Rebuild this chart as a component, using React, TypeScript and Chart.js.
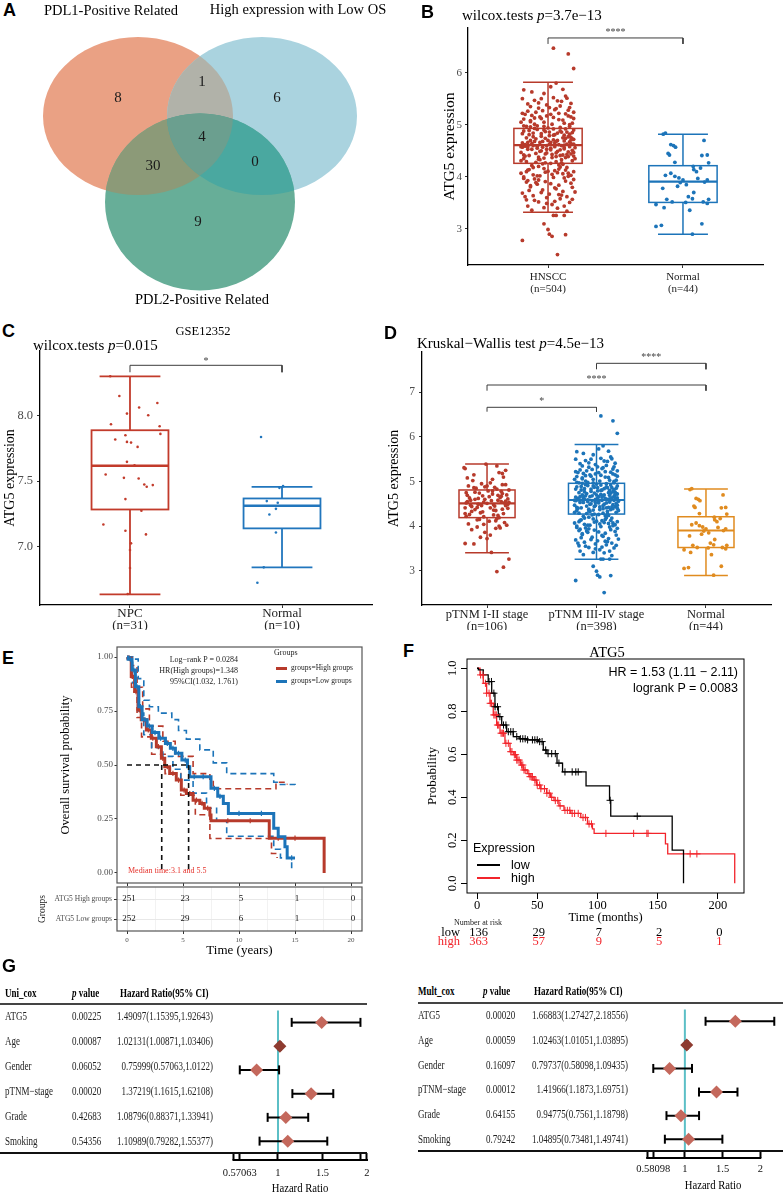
import React, { useEffect, useRef } from 'react';
import { Chart, registerables } from 'chart.js';

Chart.register(...registerables);

const SERIF = '"Liberation Serif", "Times New Roman", serif';
const SANS = '"Liberation Sans", Arial, Helvetica, sans-serif';

/* ======================= DATA ======================= */

// ---- A: Venn ----
const vennSetNames = ['PDL1-Positive Related', 'High expression with Low OS', 'PDL2-Positive Related'];
// regions: PDL1 only, PDL1∩OS, OS only, all three, PDL1∩PDL2, OS∩PDL2, PDL2 only
const vennCounts = [8, 1, 6, 4, 30, 0, 9];

// ---- B: HNSCC vs Normal ----
const bCategories = [['HNSCC', '(n=504)'], ['Normal', '(n=44)']];
const bYTicks = [3, 4, 5, 6];
const bLower = [3.32, 2.9];
const bQ1 = [4.26, 3.51];
const bMedian = [4.61, 3.91];
const bQ3 = [4.93, 4.215];
const bUpper = [5.815, 4.82];
const bBrackets = [[1, 2, 6.666, 6.551]];
const bStars = ['****'];
const hnsccPoints = [
  [-0.17, 4.62], [0.05, 4.81], [0.13, 4.37], [-0.08, 4.55], [0.19, 4.72], [-0.02, 4.09], [0.09, 4.95], [-0.14, 4.41], [0.16, 4.58], [-0.05, 5.12],
  [0.02, 4.66], [-0.19, 4.83], [0.11, 4.24], [-0.11, 4.77], [0.07, 4.49], [-0.03, 4.9], [0.18, 5.03], [-0.16, 4.29], [0.04, 4.71], [-0.09, 4.45],
  [0.14, 4.86], [-0.01, 4.53], [0.08, 4.15], [-0.18, 4.98], [0.12, 4.61], [-0.06, 4.33], [0.17, 4.44], [-0.13, 5.06], [0.01, 4.79], [0.1, 4.27],
  [-0.04, 4.68], [0.15, 5.17], [-0.15, 4.58], [0.06, 4.39], [-0.1, 4.93], [0.2, 4.56], [-0.07, 4.2], [0.03, 5.01], [-0.2, 4.47], [0.13, 4.74],
  [-0.12, 4.64], [0.09, 4.52], [-0.02, 4.87], [0.18, 4.31], [-0.16, 4.75], [0.05, 4.12], [-0.08, 4.59], [0.16, 4.97], [-0.03, 4.36], [0.11, 5.09],
  [-0.18, 4.42], [0.0, 4.7], [0.14, 4.63], [-0.11, 4.18], [0.07, 4.84], [-0.05, 4.5], [0.19, 4.4], [-0.14, 4.89], [0.02, 4.26], [0.12, 4.69],
  [-0.09, 5.24], [0.06, 5.31], [-0.17, 5.2], [0.15, 5.28], [-0.01, 5.38], [0.1, 5.45], [-0.13, 5.35], [0.04, 5.52], [-0.06, 5.15], [0.17, 5.41],
  [-0.19, 5.5], [0.08, 5.22], [-0.03, 5.6], [0.13, 5.55], [-0.1, 5.47], [0.01, 5.33], [0.19, 5.12], [-0.15, 5.26], [0.11, 5.68], [-0.07, 5.42],
  [-0.18, 5.67], [-0.12, 5.63], [0.06, 5.8], [0.02, 5.73], [0.14, 5.51], [-0.2, 5.05],
  [-0.06, 4.02], [0.12, 3.98], [-0.15, 3.93], [0.03, 4.05], [0.17, 3.88], [-0.1, 3.96], [0.08, 3.84], [-0.02, 3.91], [0.15, 4.07], [-0.18, 4.0],
  [0.05, 3.79], [-0.08, 3.86], [0.11, 3.72], [-0.13, 3.81], [0.19, 3.95], [-0.04, 3.75], [0.01, 3.67], [0.14, 3.62], [-0.19, 3.69], [0.09, 3.58],
  [-0.11, 3.64], [0.16, 3.51], [-0.16, 3.56], [0.03, 3.47], [0.12, 3.44], [-0.07, 3.52], [0.18, 3.57], [-0.01, 3.6], [0.07, 3.4], [-0.14, 3.74],
  [-0.15, 3.44], [-0.12, 3.36], [-0.03, 3.41], [0.04, 3.26], [0.06, 3.26], [0.12, 3.26], [-0.03, 3.1], [0.0, 2.99], [0.01, 2.9], [0.03, 2.86],
  [0.13, 2.89], [-0.19, 2.78], [0.07, 2.51], [0.04, 6.47], [0.15, 6.36], [0.19, 6.08],
  [-0.12, 4.53], [0.1, 4.6], [-0.05, 4.78], [0.16, 4.67], [-0.18, 4.35], [0.06, 4.46], [-0.09, 4.73], [0.13, 4.13], [-0.01, 4.6], [0.18, 4.85],
  [-0.15, 4.66], [0.04, 4.92], [-0.07, 4.38], [0.12, 4.8], [-0.19, 4.57], [0.08, 4.23], [-0.03, 4.97], [0.15, 4.48], [-0.11, 4.84], [0.02, 4.55],
  [-0.16, 4.1], [0.11, 4.42], [-0.04, 4.25], [0.19, 4.63], [-0.13, 4.96], [0.05, 4.65], [-0.08, 4.02], [0.17, 4.76], [-0.02, 4.44], [0.09, 4.88],
  [-0.2, 4.58], [0.17, 4.71], [-0.06, 4.49], [0.08, 4.62], [-0.14, 4.81], [0.03, 4.37], [0.19, 4.9], [-0.1, 4.68], [0.12, 4.54], [-0.02, 4.74],
  [0.06, 4.29], [-0.17, 4.4], [0.15, 4.77], [-0.08, 4.98], [0.01, 4.63], [0.18, 4.51], [-0.12, 4.22], [0.1, 4.86], [-0.04, 4.57], [0.14, 4.43],
  [-0.19, 4.65], [0.04, 4.8], [-0.07, 4.34], [0.16, 5.0], [-0.15, 4.53], [0.07, 4.7], [-0.01, 4.46], [0.13, 4.92], [-0.11, 4.6], [0.2, 4.35],
  [-0.05, 4.83], [0.09, 4.41], [-0.16, 4.97], [0.02, 4.52], [0.17, 4.64], [-0.09, 4.28], [0.11, 4.75], [-0.03, 5.05], [0.05, 4.58], [-0.18, 4.88],
  [0.14, 4.18], [-0.13, 4.7], [0.0, 4.94], [0.19, 4.47], [-0.06, 4.66], [0.08, 5.1], [-0.2, 4.31], [0.12, 4.56], [-0.1, 5.01], [0.03, 4.43],
  [0.16, 4.82], [-0.14, 4.14], [0.06, 4.68], [-0.02, 4.27], [0.18, 4.73], [-0.08, 4.91], [0.1, 4.33], [-0.17, 4.59], [0.01, 4.86], [0.15, 4.39],
  [-0.12, 5.18], [0.04, 5.14], [-0.04, 5.27], [0.13, 5.21], [-0.18, 5.11], [0.09, 5.36], [-0.07, 5.32], [0.19, 5.24], [-0.15, 5.4], [0.02, 5.2],
  [0.16, 5.33], [-0.1, 5.13], [0.07, 5.46], [-0.01, 5.17], [0.12, 5.03], [-0.19, 5.22], [0.05, 5.29], [-0.13, 5.08], [0.17, 5.15], [-0.05, 5.5],
  [-0.11, 4.04], [0.07, 4.08], [-0.18, 3.97], [0.15, 4.01], [0.0, 4.11], [-0.07, 3.94], [0.11, 4.06], [-0.15, 4.13], [0.19, 4.1], [0.04, 3.99],
  [-0.03, 4.16], [0.13, 3.92], [-0.2, 4.07], [0.09, 4.19], [-0.09, 3.89], [0.17, 4.03], [-0.13, 3.83], [0.02, 3.87], [0.06, 3.77], [-0.16, 3.9],
  [0.1, 3.65], [-0.05, 3.7], [0.18, 3.8], [-0.1, 3.55], [0.14, 3.34], [-0.17, 3.62], [0.05, 3.53], [0.2, 3.71], [-0.01, 3.49], [0.08, 3.66],
];
const normalPoints = [
  [-0.146, 4.82], [-0.13, 4.84], [0.156, 4.7], [-0.09, 4.62], [-0.07, 4.6], [-0.055, 4.57], [-0.1, 4.42], [0.14, 4.41], [0.18, 4.42], [-0.06, 4.28],
  [0.19, 4.27], [0.076, 4.2], [0.13, 4.17], [0.08, 4.14], [-0.09, 4.07], [-0.13, 4.03], [-0.06, 4.01], [0.0, 3.94], [-0.02, 3.89], [-0.04, 3.82],
  [0.025, 3.85], [0.18, 3.94], [0.11, 3.97], [0.08, 3.7], [-0.12, 3.57], [0.07, 3.58], [0.19, 3.57], [-0.2, 3.47], [-0.08, 3.52], [0.02, 3.51],
  [0.15, 3.52], [0.18, 3.49], [-0.14, 3.41], [0.05, 3.36], [-0.2, 3.05], [-0.16, 3.07], [0.14, 3.1], [0.07, 2.9], [-0.03, 3.98], [0.1, 4.1],
  [-0.15, 3.78], [0.04, 3.62], [0.16, 3.9], [-0.11, 4.45],
];

// ---- C: GSE12352 ----
const cCategories = [['NPC', '(n=31)'], ['Normal', '(n=10)']];
const cYTicks = [7.0, 7.5, 8.0];
const cLower = [6.637, 6.843];
const cQ1 = [7.284, 7.14];
const cMedian = [7.617, 7.312];
const cQ3 = [7.888, 7.368];
const cUpper = [8.299, 7.457];
const cBrackets = [[1, 2, 8.383, 8.33]];
const cStars = ['*'];
const npcPoints = [
  [-0.13, 8.299], [-0.07, 8.149], [0.18, 8.096], [0.06, 8.061], [-0.02, 8.015], [0.12, 8.002], [-0.125, 7.934], [0.195, 7.919], [0.2, 7.86], [-0.03, 7.85],
  [-0.097, 7.817], [-0.02, 7.799], [0.007, 7.794], [0.05, 7.761], [-0.02, 7.647], [-0.16, 7.551], [-0.04, 7.525], [0.057, 7.52], [0.094, 7.475], [0.15, 7.47],
  [0.11, 7.457], [-0.03, 7.363], [0.075, 7.274], [-0.175, 7.17], [-0.03, 7.122], [0.105, 7.094], [0.007, 7.026], [0.0, 6.975], [0.0, 6.838], [-0.015, 6.64], [0.03, 7.62],
];
const gseNormalPoints = [
  [-0.138, 7.837], [0.007, 7.462], [-0.017, 7.449], [-0.1, 7.348], [-0.028, 7.335], [-0.04, 7.289], [-0.083, 7.246], [-0.04, 7.109], [-0.12, 6.843], [-0.162, 6.726],
];

// ---- D: pTNM stage ----
const dCategories = [['pTNM I-II stage', '(n=106)'], ['pTNM III-IV stage', '(n=398)'], ['Normal', '(n=44)']];
const dYTicks = [3, 4, 5, 6, 7];
const dLower = [3.4, 3.255, 2.89];
const dQ1 = [4.19, 4.27, 3.52];
const dMedian = [4.51, 4.585, 3.9];
const dQ3 = [4.81, 4.96, 4.21];
const dUpper = [5.39, 5.83, 4.83];
const dBrackets = [[1, 2, 6.664, 6.565], [1, 3, 7.164, 7.036], [2, 3, 7.65, 7.516]];
const dStars = ['*', '****', '****'];
const stage12Points = [
  [-0.18, 4.55], [0.05, 4.72], [0.14, 4.38], [-0.08, 4.49], [0.19, 4.61], [-0.03, 4.21], [0.09, 4.83], [-0.14, 4.33], [0.16, 4.52], [-0.05, 4.95],
  [0.02, 4.66], [-0.19, 4.75], [0.11, 4.19], [-0.11, 4.6], [0.07, 4.45], [-0.02, 4.88], [0.18, 4.7], [-0.16, 4.26], [0.04, 4.57], [-0.09, 4.42],
  [0.13, 4.78], [0.0, 4.51], [0.08, 4.12], [-0.17, 4.9], [0.12, 4.64], [-0.06, 4.3], [0.17, 4.46], [-0.13, 5.02], [0.01, 4.79], [0.1, 4.24],
  [-0.04, 4.68], [0.15, 5.1], [-0.15, 4.58], [0.06, 4.36], [-0.1, 4.85], [0.2, 4.53], [-0.07, 4.15], [0.03, 4.97], [-0.2, 4.41], [0.14, 4.73],
  [-0.21, 5.31], [-0.2, 5.29], [-0.01, 5.39], [0.11, 5.2], [0.14, 5.18], [0.17, 5.25], [0.09, 5.35], [-0.18, 5.08], [0.05, 5.05], [-0.12, 5.15],
  [-0.17, 4.05], [0.18, 4.02], [-0.09, 3.98], [0.08, 3.95], [0.16, 4.08], [-0.14, 3.92], [0.12, 3.96], [-0.02, 3.86], [0.03, 3.8], [-0.06, 3.75],
  [-0.2, 3.61], [-0.12, 3.6], [0.0, 3.72], [0.04, 3.41], [0.09, 2.98], [0.15, 3.08], [0.2, 3.26], [-0.04, 4.32], [0.07, 4.87], [-0.15, 4.47],
  [0.19, 4.4], [-0.08, 4.62], [0.13, 4.55], [-0.19, 4.22], [0.02, 4.11], [0.1, 4.69], [-0.11, 4.76], [0.17, 4.93], [-0.03, 4.04], [0.06, 4.48],
  [-0.16, 4.63], [0.1, 4.58], [-0.07, 4.74], [0.15, 4.28], [0.03, 4.41], [-0.12, 4.86], [0.19, 4.49], [-0.02, 4.6], [0.08, 4.35], [-0.19, 4.52],
  [0.13, 4.67], [-0.09, 4.14], [0.05, 4.79], [-0.14, 4.44], [0.17, 4.56], [0.0, 4.9], [-0.05, 4.46], [0.11, 4.0], [-0.18, 4.69], [0.06, 4.25],
  [0.2, 4.81], [-0.11, 4.37], [0.14, 4.93], [-0.03, 4.54], [0.09, 4.17], [-0.2, 4.28],
];
const stage34Points = hnsccPoints; // same tumour samples as panel B (stage III-IV majority)
const dNormalPoints = normalPoints; // same 44 normal samples as panel B

// ---- E: survival (years) ----
const eHighT = [0, 0.08, 0.38, 0.68, 0.98, 1.27, 1.73, 2.17, 2.62, 3.07, 3.37, 3.81, 4.4, 4.85, 5.3, 5.9, 6.5, 6.9, 7.4, 7.5, 12.7, 17.6];
const eHighS = [1, 0.994, 0.91, 0.84, 0.755, 0.71, 0.662, 0.624, 0.585, 0.531, 0.492, 0.461, 0.43, 0.384, 0.368, 0.337, 0.322, 0.3, 0.268, 0.242, 0.161, 0];
const eLowT = [0, 0.1, 0.45, 0.75, 1.06, 1.35, 1.8, 2.25, 2.84, 3.43, 3.87, 4.32, 4.9, 5.4, 5.6, 7.3, 7.5, 8.1, 8.6, 9.05, 13.1, 13.5, 14.1, 14.3, 15.0];
const eLowS = [1, 0.99, 0.94, 0.862, 0.77, 0.71, 0.68, 0.65, 0.624, 0.6, 0.577, 0.554, 0.523, 0.492, 0.446, 0.446, 0.392, 0.355, 0.322, 0.276, 0.207, 0.168, 0.122, 0.07, 0.07];
const eLowUpperT = [0, 0.5, 1.0, 1.5, 2.0, 2.8, 4.0, 4.6, 5.3, 6.5, 7.7, 8.9, 13.1, 13.4, 15.0];
const eLowUpperS = [1, 0.99, 0.9, 0.8, 0.77, 0.74, 0.71, 0.66, 0.62, 0.57, 0.51, 0.46, 0.42, 0.41, 0.4];
const eLowLowerT = [0, 0.5, 1.0, 1.5, 2.2, 3.2, 4.1, 4.8, 5.9, 7.1, 8.0, 8.9, 13.1, 13.7, 14.7];
const eLowLowerS = [1, 0.88, 0.74, 0.64, 0.58, 0.54, 0.48, 0.43, 0.37, 0.3, 0.24, 0.17, 0.11, 0.07, 0.02];
const eHighUpperT = [0, 0.4, 0.9, 1.4, 2.0, 3.2, 4.3, 5.9, 7.4, 7.7, 12.8, 13.3, 14.3];
const eHighUpperS = [1, 0.96, 0.86, 0.76, 0.68, 0.61, 0.54, 0.46, 0.43, 0.39, 0.39, 0.42, 0.41];
const eHighLowerT = [0, 0.4, 0.9, 1.3, 2.2, 3.4, 4.8, 6.1, 7.4, 12.8, 12.9, 13.4];
const eHighLowerS = [1, 0.86, 0.72, 0.63, 0.55, 0.46, 0.36, 0.27, 0.16, 0.16, 0.09, 0.07];
const eHighCensor = [
  [0.2, 0.994], [0.5, 0.91], [0.8, 0.84], [1.1, 0.755], [1.5, 0.71], [1.9, 0.662], [2.3, 0.624], [2.8, 0.585], [3.2, 0.531], [3.6, 0.492],
  [4.1, 0.461], [4.6, 0.43], [5.1, 0.384], [5.6, 0.368], [6.2, 0.337], [6.7, 0.322], [7.2, 0.3], [9, 0.242], [11, 0.242], [13.5, 0.161], [15, 0.161],
];
const eLowCensor = [
  [0.3, 0.99], [0.6, 0.94], [0.9, 0.862], [1.2, 0.77], [1.6, 0.71], [2.0, 0.68], [2.5, 0.65], [3.0, 0.624], [3.6, 0.6], [4.1, 0.577],
  [4.6, 0.554], [5.2, 0.523], [6.0, 0.446], [6.8, 0.446], [7.8, 0.392], [8.3, 0.355], [10, 0.276], [12, 0.276], [14.7, 0.07],
];
const eMedianTimes = [3.1, 5.5];
const eXTicks = [0, 5, 10, 15, 20];
const eYTicks = [0, 0.25, 0.5, 0.75, 1];
const eGroupLabels = ['ATG5 High groups', 'ATG5 Low groups'];
const eRiskTimes = [0, 5, 10, 15, 20];
const eRiskHigh = [251, 23, 5, 1, 0];
const eRiskLow = [252, 29, 6, 1, 0];

// ---- F: KM plotter (months) ----
const fLowT = [0, 1.1, 5.2, 9.3, 12.2, 14.9, 17.7, 20.5, 24.6, 30.1, 35, 41.2, 50.9, 55, 58, 66.4, 71, 90.5, 110, 111, 162, 171.4];
const fLowS = [1, 0.992, 0.969, 0.938, 0.884, 0.821, 0.775, 0.736, 0.705, 0.682, 0.672, 0.667, 0.659, 0.62, 0.603, 0.559, 0.518, 0.453, 0.386, 0.312, 0.154, 0];
const fHighT = [0, 2.5, 5.2, 8, 10.8, 13.5, 16.3, 19.1, 23.2, 27.4, 30.5, 33, 36.1, 38.4, 41.7, 44, 47.2, 49.5, 53, 57.8, 61, 63.9, 68, 72.2, 77.8, 86.1, 91.7, 95.8, 97.2, 156.4, 158.3, 213.9];
const fHighS = [1, 0.969, 0.93, 0.884, 0.837, 0.783, 0.736, 0.698, 0.651, 0.612, 0.598, 0.573, 0.55, 0.527, 0.51, 0.496, 0.48, 0.457, 0.44, 0.419, 0.4, 0.385, 0.36, 0.339, 0.325, 0.306, 0.276, 0.253, 0.232, 0.183, 0.137, 0];
const fLowCensor = [
  [10, 0.938], [12, 0.938], [14, 0.884], [15, 0.821], [17, 0.821], [19, 0.775], [22, 0.736], [24, 0.736], [26, 0.705], [28, 0.705], [30, 0.705],
  [33, 0.682], [36, 0.672], [38, 0.672], [40, 0.672], [42, 0.667], [46, 0.667], [48, 0.667], [50, 0.667], [52, 0.659], [54, 0.659], [57, 0.62],
  [59, 0.603], [62, 0.603], [65, 0.603], [68, 0.559], [73, 0.518], [79, 0.518], [82, 0.518], [84, 0.518], [110.5, 0.386], [133, 0.312],
];
const fHighCensor = [
  [3, 0.969], [5, 0.969], [7, 0.93], [8, 0.884], [10, 0.884], [11, 0.837], [12, 0.837], [14, 0.783], [15, 0.783], [16, 0.783], [17, 0.736], [18, 0.736],
  [20, 0.698], [21, 0.698], [22, 0.698], [24, 0.651], [26, 0.651], [28, 0.612], [29, 0.612], [31, 0.598], [32, 0.598], [33, 0.573], [34, 0.573], [35, 0.573],
  [37, 0.55], [38, 0.55], [39, 0.527], [40, 0.527], [43, 0.51], [44, 0.496], [45, 0.496], [46, 0.496], [48, 0.48], [49, 0.48], [50, 0.457], [52, 0.457],
  [53, 0.44], [56, 0.44], [58, 0.419], [60, 0.419], [62, 0.4], [65, 0.385], [67, 0.385], [69, 0.36], [73, 0.339], [75, 0.339], [77, 0.339], [79, 0.325],
  [81, 0.325], [84, 0.325], [88, 0.306], [90, 0.306], [93, 0.276], [95, 0.276], [107, 0.232], [130, 0.232], [141, 0.232], [142, 0.232], [176.9, 0.137], [182.5, 0.137],
];
const fXTicks = [0, 50, 100, 150, 200];
const fYTicks = [0, 0.2, 0.4, 0.6, 0.8, 1.0];
const fRiskTimes = [0, 50, 100, 150, 200];
const fRiskLow = [136, 29, 7, 2, 0];
const fRiskHigh = [363, 57, 9, 5, 1];

// ---- G: Cox forest plots ----
const coxVars = ['ATG5', 'Age', 'Gender', 'pTNM−stage', 'Grade', 'Smoking'];
const uniP = ['0.00225', '0.00087', '0.06052', '0.00020', '0.42683', '0.54356'];
const uniHR = [1.49097, 1.02131, 0.75999, 1.37219, 1.08796, 1.10989];
const uniLo = [1.15395, 1.00871, 0.57063, 1.1615, 0.88371, 0.79282];
const uniHi = [1.92643, 1.03406, 1.0122, 1.62108, 1.33941, 1.55377];
const uniTicks = [0.5, 0.57063, 1, 1.5, 1.92643, 2];
const uniTickLabels = [0.57063, 1, 1.5, 2];
const multP = ['0.00020', '0.00059', '0.16097', '0.00012', '0.64155', '0.79242'];
const multHR = [1.66883, 1.02463, 0.79737, 1.41966, 0.94775, 1.04895];
const multLo = [1.27427, 1.01051, 0.58098, 1.1873, 0.7561, 0.73481];
const multHi = [2.18556, 1.03895, 1.09435, 1.69751, 1.18798, 1.49741];
const multTicks = [0.5, 0.58098, 1, 1.5, 2];
const multTickLabels = [0.58098, 1, 1.5, 2];

/* ======================= LAYOUT / STYLE ======================= */
const RED = '#B73A2B';
const BLUE = '#1C74B9';
const ORANGE = '#E08B1F';
const C_RED = '#C23B2B';
const C_BLUE = '#2176BD';

const BOX: any = {
  A: { x: 0, y: 20, w: 400, h: 282 },
  B: { x: 400, y: 20, w: 383, h: 280 },
  C: { x: 0, y: 345, w: 390, h: 285 },
  D: { x: 384, y: 348, w: 399, h: 282 },
  E: { x: 40, y: 640, w: 330, h: 250 },
  ER: { x: 30, y: 884, w: 340, h: 76 },
  F: { x: 425, y: 645, w: 358, h: 305 },
  GL: { x: 200, y: 1004, w: 183, h: 189 },
  GR: { x: 620, y: 1003, w: 163, h: 190 },
};
// Venn geometry in panel units (cx, cy, rx, ry) and label anchors
const vennShapes = [[138, 116, 95, 79], [262, 116, 95, 79], [200, 202, 95, 88.5]];
const vennFill = ['#EAA184', '#AAD3DF', '#67AE98'];
const vennOverlap = { AB: '#B1B2A9', AC: '#8C9A78', BC: '#4AA8A0', ABC: '#6B9F8F' };
const vennAnchors = [[118, 97], [202, 81], [277, 97], [202, 136], [153, 165], [255, 161], [198, 221]];

/* ======================= HELPERS ======================= */
const fixX = (h: number) => (s: any) => { s.height = h; s.paddingLeft = 0; s.paddingRight = 0; };
const fixY = (w: number) => (s: any) => { s.width = w; s.paddingTop = 0; s.paddingBottom = 0; };
const tickAt = (vals: number[]) => (s: any) => { s.ticks = vals.map((v) => ({ value: v })); };
const xy = (t: number[], s: number[]) => t.map((v, i) => ({ x: v, y: s[i] }));
const pairs = (arr: number[][]) => arr.map((p) => ({ x: p[0], y: p[1] }));
const baseOpts = (o: any) => ({
  responsive: false, animation: false, events: [],
  plugins: { legend: { display: false }, tooltip: { enabled: false } },
  ...o,
});
const framePlugin = (color: string, lw: number) => ({
  id: 'frame',
  afterDraw(chart: any) {
    const { ctx, chartArea: a } = chart;
    ctx.save();
    ctx.strokeStyle = color; ctx.lineWidth = lw;
    ctx.strokeRect(a.left, a.top, a.right - a.left, a.bottom - a.top);
    ctx.restore();
  },
});

function ChartCanvas({ box, build }: any) {
  const ref = useRef<HTMLCanvasElement>(null);
  useEffect(() => {
    const chart = new Chart(ref.current as HTMLCanvasElement, build());
    return () => chart.destroy();
  }, []);
  return (
    <canvas ref={ref} width={box.w} height={box.h}
      style={{ position: 'absolute', left: box.x, top: box.y, width: box.w, height: box.h }} />
  );
}

function Txt({ x, y, s, a = 'l', c = '#000', b = false, f = SERIF, r = 0, k = 1, children }: any) {
  const tx = a === 'l' ? '0' : a === 'c' ? '-50%' : '-100%';
  const origin = a === 'l' ? 'left center' : a === 'c' ? 'center center' : 'right center';
  let tf = `translate(${tx},-50%)`;
  if (r) tf += ` rotate(${r}deg)`;
  if (k !== 1) tf += ` scaleX(${k})`;
  return (
    <div style={{
      position: 'absolute', left: x, top: y, fontSize: s, fontFamily: f, color: c,
      fontWeight: b ? 'bold' : 'normal', whiteSpace: 'nowrap', lineHeight: 1,
      transform: tf, transformOrigin: origin,
    }}>{children}</div>
  );
}
const Bar = ({ x, y, w, h, c }: any) => (
  <div style={{ position: 'absolute', left: x, top: y, width: w, height: h, background: c }} />
);

/* ======================= CHART BUILDERS ======================= */
function buildVenn() {
  const venn = {
    id: 'venn',
    afterDatasetsDraw(chart: any) {
      const { ctx, scales: { x, y } } = chart;
      const path = (e: number[]) => {
        const cx = x.getPixelForValue(e[0]);
        const cy = y.getPixelForValue(e[1]);
        const rx = Math.abs(x.getPixelForValue(e[0] + e[2]) - cx);
        const ry = Math.abs(y.getPixelForValue(e[1] + e[3]) - cy);
        ctx.beginPath();
        ctx.ellipse(cx, cy, rx, ry, 0, 0, Math.PI * 2);
      };
      ctx.save();
      vennShapes.forEach((e, i) => { path(e); ctx.fillStyle = vennFill[i]; ctx.fill(); });
      const clipFill = (clips: number[], target: number, color: string) => {
        ctx.save();
        clips.forEach((c) => { path(vennShapes[c]); ctx.clip(); });
        path(vennShapes[target]); ctx.fillStyle = color; ctx.fill();
        ctx.restore();
      };
      clipFill([0], 1, vennOverlap.AB);
      clipFill([0], 2, vennOverlap.AC);
      clipFill([1], 2, vennOverlap.BC);
      clipFill([0, 1], 2, vennOverlap.ABC);
      ctx.fillStyle = '#1a1a1a';
      ctx.font = `15px ${SERIF}`;
      ctx.textAlign = 'center';
      ctx.textBaseline = 'middle';
      vennCounts.forEach((n, i) => {
        ctx.fillText(String(n), x.getPixelForValue(vennAnchors[i][0]), y.getPixelForValue(vennAnchors[i][1]) + 1);
      });
      ctx.restore();
    },
  };
  return {
    type: 'scatter',
    data: { datasets: [] },
    options: baseOpts({
      layout: { padding: 0 },
      scales: {
        x: { type: 'linear', display: false, min: 0, max: 400 },
        y: { type: 'linear', display: false, min: 20, max: 302, reverse: true },
      },
    }),
    plugins: [venn],
  };
}

function boxChart(p: any) {
  const datasets: any[] = [];
  p.points.forEach((arr: number[][], i: number) => {
    datasets.push({
      data: arr.map((q) => ({ x: i + 1 + q[0], y: q[1] })),
      backgroundColor: p.colors[i], pointRadius: p.r, pointBorderWidth: 0,
    });
  });
  p.brackets.forEach((b: number[]) => {
    datasets.push({
      data: [{ x: b[0], y: b[3] }, { x: b[0], y: b[2] }, { x: b[1], y: b[2] }, { x: b[1], y: b[3] }],
      showLine: true, borderColor: '#3C3C3C', borderWidth: 1, pointRadius: 0,
    });
  });
  const boxes = {
    id: 'boxes',
    beforeDatasetsDraw(chart: any) {
      const { ctx, scales: { x, y } } = chart;
      const X = (v: number) => x.getPixelForValue(v);
      const Y = (v: number) => y.getPixelForValue(v);
      const seg = (x1: number, y1: number, x2: number, y2: number) => {
        ctx.beginPath(); ctx.moveTo(x1, y1); ctx.lineTo(x2, y2); ctx.stroke();
      };
      ctx.save();
      p.q1.forEach((_: number, i: number) => {
        const c = i + 1;
        ctx.strokeStyle = p.colors[i];
        ctx.lineWidth = p.lw;
        seg(X(c), Y(p.hi[i]), X(c), Y(p.q3[i]));
        seg(X(c), Y(p.q1[i]), X(c), Y(p.lo[i]));
        seg(X(c - p.cap), Y(p.hi[i]), X(c + p.cap), Y(p.hi[i]));
        seg(X(c - p.cap), Y(p.lo[i]), X(c + p.cap), Y(p.lo[i]));
        ctx.strokeRect(X(c - p.half), Y(p.q3[i]), X(c + p.half) - X(c - p.half), Y(p.q1[i]) - Y(p.q3[i]));
        ctx.lineWidth = p.mlw;
        seg(X(c - p.half), Y(p.med[i]), X(c + p.half), Y(p.med[i]));
      });
      ctx.restore();
    },
  };
  const stars = {
    id: 'stars',
    afterDatasetsDraw(chart: any) {
      const { ctx, scales: { x, y } } = chart;
      ctx.save();
      ctx.fillStyle = '#444';
      ctx.font = `10px ${SERIF}`;
      ctx.textAlign = 'center';
      ctx.textBaseline = 'alphabetic';
      p.brackets.forEach((b: number[], i: number) => {
        ctx.fillText(p.stars[i], x.getPixelForValue((b[0] + b[1]) / 2), y.getPixelForValue(b[2]) - p.starDy);
      });
      ctx.restore();
    },
  };
  return {
    type: 'scatter',
    data: { datasets },
    options: baseOpts({
      layout: { padding: p.pad },
      scales: {
        x: {
          type: 'linear', min: p.xr[0], max: p.xr[1],
          afterBuildTicks: tickAt(p.cats.map((_: any, i: number) => i + 1)),
          afterFit: fixX(p.xH),
          ticks: {
            autoSkip: false, maxRotation: 0, minRotation: 0, padding: p.xPad, color: '#222',
            font: { family: SERIF, size: p.xFs, lineHeight: p.xLh },
            callback: (v: number) => p.cats[Math.round(v) - 1],
          },
          grid: { display: true, drawOnChartArea: false, drawTicks: true, tickLength: 3, tickColor: '#333', tickWidth: 1 },
          border: { display: true, color: '#000', width: 1.3 },
        },
        y: {
          type: 'linear', min: p.yr[0], max: p.yr[1],
          afterBuildTicks: tickAt(p.yTicks),
          afterFit: fixY(p.yW),
          ticks: { padding: p.yPad, color: '#4D4D4D', font: { family: SERIF, size: p.yFs }, callback: p.yFmt },
          grid: { display: true, drawOnChartArea: false, drawTicks: true, tickLength: 3, tickColor: '#333', tickWidth: 1 },
          border: { display: true, color: '#000', width: 1.3 },
          title: {
            display: true, text: 'ATG5 expression', color: '#000',
            font: { family: SERIF, size: p.ytFs, lineHeight: 1.2 }, padding: { top: p.ytPad, bottom: 0 },
          },
        },
      },
    }),
    plugins: [boxes, stars],
  };
}

const buildB = () => boxChart({
  cats: bCategories, points: [hnsccPoints, normalPoints], colors: [RED, BLUE], r: 1.9,
  lo: bLower, q1: bQ1, med: bMedian, q3: bQ3, hi: bUpper, half: 0.253, cap: 0.185, lw: 1.5, mlw: 2.2,
  brackets: bBrackets, stars: bStars, starDy: 3.4,
  xr: [0.407, 2.593], yr: [2.309, 6.857], yTicks: bYTicks, yFmt: (v: number) => String(v),
  pad: { top: 8, right: 20, left: 0, bottom: 0 }, xH: 35, yW: 68,
  xFs: 11, xLh: 1.1, xPad: 3, yFs: 11, yPad: 3, ytFs: 15.5, ytPad: 40.7,
});
const buildC = () => boxChart({
  cats: cCategories, points: [npcPoints, gseNormalPoints], colors: [C_RED, C_BLUE], r: 1.3,
  lo: cLower, q1: cQ1, med: cMedian, q3: cQ3, hi: cUpper, half: 0.253, cap: 0.2, lw: 1.8, mlw: 2.6,
  brackets: cBrackets, stars: cStars, starDy: 1.6,
  xr: [0.408, 2.592], yr: [6.556, 8.492], yTicks: cYTicks, yFmt: (v: number) => v.toFixed(1),
  pad: { top: 6, right: 18, left: 0, bottom: 0 }, xH: 25, yW: 40,
  xFs: 13, xLh: 0.92, xPad: 0, yFs: 12.5, yPad: 4, ytFs: 14, ytPad: 1.6,
});
const buildD = () => boxChart({
  cats: dCategories, points: [stage12Points, stage34Points, dNormalPoints], colors: [RED, BLUE, ORANGE], r: 1.9,
  lo: dLower, q1: dQ1, med: dMedian, q3: dQ3, hi: dUpper, half: 0.256, cap: 0.2, lw: 1.5, mlw: 2.1,
  brackets: dBrackets, stars: dStars, starDy: 3.2,
  xr: [0.406, 3.594], yr: [2.231, 7.904], yTicks: dYTicks, yFmt: (v: number) => String(v),
  pad: { top: 4, right: 12, left: 0, bottom: 0 }, xH: 25, yW: 38,
  xFs: 12.5, xLh: 0.96, xPad: 1, yFs: 11.5, yPad: 4, ytFs: 14, ytPad: 1.6,
});

function buildE() {
  const step = (t: number[], s: number[], color: string, w: number, dash: number[]) => ({
    data: xy(t, s), stepped: true, borderColor: color, borderWidth: w, borderDash: dash, pointRadius: 0, fill: false, tension: 0,
  });
  const cens = (arr: number[][], color: string) => ({
    type: 'scatter', data: pairs(arr), pointStyle: 'cross', pointRadius: 2.6,
    borderColor: color, pointBorderColor: color, pointBorderWidth: 1.2, backgroundColor: color,
  });
  const mMax = Math.max(...eMedianTimes);
  const medianSets = [
    { data: [{ x: 0, y: 0.5 }, { x: mMax, y: 0.5 }] },
    ...eMedianTimes.map((m) => ({ data: [{ x: m, y: 0.5 }, { x: m, y: 0 }] })),
  ].map((d) => ({ ...d, borderColor: '#111', borderWidth: 1.6, borderDash: [5, 4], pointRadius: 0, fill: false }));
  return {
    type: 'line',
    data: {
      datasets: [
        ...medianSets,
        cens(eLowCensor, BLUE),
        step(eLowT, eLowS, BLUE, 3, []),
        cens(eHighCensor, RED),
        step(eHighT, eHighS, RED, 3, []),
        step(eLowUpperT, eLowUpperS, BLUE, 1.6, [6, 4]),
        step(eLowLowerT, eLowLowerS, BLUE, 1.6, [6, 4]),
        step(eHighUpperT, eHighUpperS, RED, 1.6, [6, 4]),
        step(eHighLowerT, eHighLowerS, RED, 1.6, [6, 4]),
      ],
    },
    options: baseOpts({
      layout: { padding: { top: 7, right: 8, left: 0, bottom: 0 } },
      scales: {
        x: {
          type: 'linear', min: -0.893, max: 20.98, afterBuildTicks: tickAt(eXTicks), afterFit: fixX(7),
          ticks: { callback: () => '', font: { size: 1 } },
          grid: { display: true, drawOnChartArea: false, tickLength: 3, tickColor: '#333' },
          border: { display: false },
        },
        y: {
          type: 'linear', min: -0.0463, max: 1.0463, afterBuildTicks: tickAt(eYTicks), afterFit: fixY(77),
          ticks: { callback: (v: number) => v.toFixed(2), font: { family: SERIF, size: 9 }, color: '#4D4D4D', padding: 1.5 },
          grid: { display: true, drawOnChartArea: false, tickLength: 2.5, tickColor: '#333' },
          border: { display: false },
          title: {
            display: true, text: 'Overall survival probability', color: '#000',
            font: { family: SERIF, size: 12.5, lineHeight: 1.2 }, padding: { top: 18.5, bottom: 0 },
          },
        },
      },
    }),
    plugins: [framePlugin('#555', 1.2)],
  };
}

function buildERisk() {
  const minorTicks = [0, 2.5, 5, 7.5, 10, 12.5, 15, 17.5, 20];
  const nums = {
    id: 'riskNums',
    afterDatasetsDraw(chart: any) {
      const { ctx, scales: { x, y } } = chart;
      ctx.save();
      ctx.fillStyle = '#111';
      ctx.font = `9px ${SERIF}`;
      ctx.textAlign = 'center';
      ctx.textBaseline = 'middle';
      eRiskTimes.forEach((t, i) => {
        ctx.fillText(String(eRiskHigh[i]), x.getPixelForValue(t) + 2, y.getPixelForValue(1));
        ctx.fillText(String(eRiskLow[i]), x.getPixelForValue(t) + 2, y.getPixelForValue(2));
      });
      ctx.restore();
    },
  };
  return {
    type: 'scatter',
    data: { datasets: [] },
    options: baseOpts({
      layout: { padding: { top: 3, right: 8, left: 0, bottom: 0 } },
      scales: {
        x: {
          type: 'linear', min: -0.893, max: 20.98, afterBuildTicks: tickAt(minorTicks), afterFit: fixX(29),
          ticks: {
            autoSkip: false, maxRotation: 0, padding: 1.8, color: '#4D4D4D', font: { family: SERIF, size: 7 },
            callback: (v: number) => (v % 5 === 0 ? String(v) : ''),
          },
          grid: {
            display: true, drawOnChartArea: true, tickLength: 3,
            color: (c: any) => (c.tick && c.tick.value % 5 === 0 ? '#E4E4E4' : '#F2F2F2'),
            tickColor: (c: any) => (c.tick && c.tick.value % 5 === 0 ? '#333' : 'rgba(0,0,0,0)'),
          },
          border: { display: false },
          title: { display: true, text: 'Time (years)', color: '#000', font: { family: SERIF, size: 13, lineHeight: 1.2 }, padding: { top: 0, bottom: 1.2 } },
        },
        y: {
          type: 'linear', min: 0.4, max: 2.6, reverse: true, afterBuildTicks: tickAt([1, 2]), afterFit: fixY(87),
          ticks: { padding: 2, color: '#4D4D4D', font: { family: SERIF, size: 7.5 }, callback: (v: number) => eGroupLabels[Math.round(v) - 1] },
          grid: { display: true, drawOnChartArea: true, color: '#E8E8E8', tickLength: 3, tickColor: '#333' },
          border: { display: false },
          title: { display: true, text: 'Groups', color: '#222', font: { family: SERIF, size: 9.5, lineHeight: 1.2 }, padding: { top: 6.3, bottom: 0 } },
        },
      },
    }),
    plugins: [framePlugin('#555', 1.2), nums],
  };
}

function buildF() {
  const step = (t: number[], s: number[], color: string) => ({
    data: xy(t, s), stepped: true, borderColor: color, borderWidth: 1.3, pointRadius: 0, fill: false, tension: 0,
  });
  const cens = (arr: number[][], color: string) => ({
    type: 'scatter', data: pairs(arr), pointStyle: 'cross', pointRadius: 3.6,
    borderColor: color, pointBorderColor: color, pointBorderWidth: 1, backgroundColor: color,
  });
  const rotY = {
    id: 'rotY',
    afterDraw(chart: any) {
      const { ctx, scales: { y } } = chart;
      ctx.save();
      ctx.fillStyle = '#000';
      ctx.font = `12.5px ${SERIF}`;
      ctx.textAlign = 'center';
      ctx.textBaseline = 'middle';
      fYTicks.forEach((v) => {
        ctx.save();
        ctx.translate(28, y.getPixelForValue(v));
        ctx.rotate(-Math.PI / 2);
        ctx.fillText(v.toFixed(1), 0, 0);
        ctx.restore();
      });
      ctx.restore();
    },
  };
  const risk = {
    id: 'riskF',
    afterDraw(chart: any) {
      const { ctx, scales: { x } } = chart;
      ctx.save();
      ctx.textBaseline = 'middle';
      ctx.font = `8px ${SERIF}`;
      ctx.fillStyle = '#222';
      ctx.textAlign = 'center';
      ctx.fillText('Number at risk', 53, 278);
      ctx.font = `12.5px ${SERIF}`;
      ctx.textAlign = 'right';
      ctx.fillStyle = '#000';
      ctx.fillText('low', 35, 288);
      ctx.fillStyle = '#F2242B';
      ctx.fillText('high', 35, 297);
      ctx.textAlign = 'center';
      fRiskTimes.forEach((t, i) => {
        const px = x.getPixelForValue(t) + 1.5;
        ctx.fillStyle = '#000';
        ctx.fillText(String(fRiskLow[i]), px, 288);
        ctx.fillStyle = '#F2242B';
        ctx.fillText(String(fRiskHigh[i]), px, 297);
      });
      ctx.restore();
    },
  };
  return {
    type: 'line',
    data: {
      datasets: [
        cens(fLowCensor, '#000'),
        cens(fHighCensor, '#F2242B'),
        step(fLowT, fLowS, '#000'),
        step(fHighT, fHighS, '#F2242B'),
      ],
    },
    options: baseOpts({
      layout: { padding: { top: 14, right: 39, left: 0, bottom: 0 } },
      scales: {
        x: {
          type: 'linear', min: -8.3, max: 221.6, afterBuildTicks: tickAt(fXTicks), afterFit: fixX(57),
          ticks: { maxRotation: 0, autoSkip: false, padding: 0, color: '#000', font: { family: SERIF, size: 12.5, lineHeight: 1 } },
          grid: { display: true, drawOnChartArea: false, tickLength: 6, tickColor: '#000' },
          border: { display: false },
          title: { display: true, text: 'Time (months)', color: '#000', font: { family: SERIF, size: 12.5, lineHeight: 1 }, padding: { top: 0, bottom: 25.75 } },
        },
        y: {
          type: 'linear', min: -0.045, max: 1.043, afterBuildTicks: tickAt(fYTicks), afterFit: fixY(42),
          ticks: { callback: () => '' },
          grid: { display: true, drawOnChartArea: false, tickLength: 6, tickColor: '#000' },
          border: { display: false },
          title: { display: true, text: 'Probability', color: '#000', font: { family: SERIF, size: 13, lineHeight: 1 }, padding: { top: 1.5, bottom: 0 } },
        },
      },
    }),
    plugins: [framePlugin('#000', 1), rotY, risk],
  };
}

function buildForest(p: any) {
  const n = p.hr.length;
  const datasets: any[] = [];
  datasets.push({
    data: p.hr.map((v: number, i: number) => ({ x: v, y: i + 1 })),
    pointStyle: 'rectRot', pointRadius: 6.5, pointBorderWidth: 0,
    backgroundColor: p.hr.map((_: number, i: number) => (p.hi[i] - p.lo[i] < 0.1 ? '#8E3B30' : '#C4685C')),
  });
  for (let i = 0; i < n; i++) {
    datasets.push({
      data: [{ x: p.lo[i], y: i + 1 }, { x: p.hi[i], y: i + 1 }],
      showLine: true, borderColor: '#000', borderWidth: 2,
      pointStyle: 'line', pointRotation: 90, pointRadius: 4.5, pointBorderColor: '#000', pointBorderWidth: 2,
    });
  }
  datasets.push({ data: [{ x: 1, y: 0.5 }, { x: 1, y: n + 0.5 }], showLine: true, borderColor: '#5CBFC6', borderWidth: 2, pointRadius: 0 });
  const axisLine = {
    id: 'faxis',
    afterDraw(chart: any) {
      const { ctx, chartArea: a, scales: { x } } = chart;
      ctx.save();
      ctx.strokeStyle = '#000'; ctx.lineWidth = 2;
      ctx.beginPath();
      ctx.moveTo(x.getPixelForValue(p.ticks[0]) - 1, a.bottom + 7);
      ctx.lineTo(x.getPixelForValue(p.ticks[p.ticks.length - 1]) + 1, a.bottom + 7);
      ctx.stroke();
      ctx.restore();
    },
  };
  return {
    type: 'scatter',
    data: { datasets },
    options: baseOpts({
      layout: { padding: p.pad },
      clip: false,
      scales: {
        x: {
          type: 'linear', min: p.xr[0], max: p.xr[1], afterBuildTicks: tickAt(p.ticks), afterFit: fixX(p.xH),
          ticks: {
            autoSkip: false, maxRotation: 0, padding: p.tickPad, color: '#111', font: { family: SERIF, size: 10.5, lineHeight: 1 },
            callback: (v: number) => (p.labels.includes(v) ? String(v) : ''),
          },
          grid: { display: true, drawOnChartArea: false, tickLength: 7, tickColor: '#000', tickWidth: 2 },
          border: { display: false },
        },
        y: { type: 'linear', display: false, min: 0.5, max: n + 0.5, reverse: true },
      },
    }),
    plugins: [axisLine],
  };
}

const buildGL = () => buildForest({
  hr: uniHR, lo: uniLo, hi: uniHi, ticks: uniTicks, labels: uniTickLabels,
  xr: [0.4045, 2.0899], pad: { left: 25, right: 8, top: 0, bottom: 0 }, xH: 40, tickPad: 7.75,
});
const buildGR = () => buildForest({
  hr: multHR, lo: multLo, hi: multHi, ticks: multTicks, labels: multTickLabels,
  xr: [0.405, 2.215], pad: { left: 20, right: 0, top: 0, bottom: 0 }, xH: 42, tickPad: 5.75,
});

/* ======================= APP ======================= */
export default function App() {
  const rowL = (i: number) => 1004 + (i + 0.5) * (149 / 6);
  const rowR = (i: number) => 1003 + (i + 0.5) * (148 / 6);
  const K = 0.75;
  return (
    <div style={{ position: 'absolute', left: 0, top: 0, width: 783, height: 1193, overflow: 'hidden', background: '#fff', fontFamily: SERIF, color: '#000' }}>
      <ChartCanvas box={BOX.A} build={buildVenn} />
      <ChartCanvas box={BOX.B} build={buildB} />
      <ChartCanvas box={BOX.C} build={buildC} />
      <ChartCanvas box={BOX.D} build={buildD} />
      <ChartCanvas box={BOX.E} build={buildE} />
      <ChartCanvas box={BOX.ER} build={buildERisk} />
      <ChartCanvas box={BOX.F} build={buildF} />
      <ChartCanvas box={BOX.GL} build={buildGL} />
      <ChartCanvas box={BOX.GR} build={buildGR} />

      {/* panel letters */}
      <Txt x={3} y={10} s={18} b f={SANS}>A</Txt>
      <Txt x={421} y={12} s={18} b f={SANS}>B</Txt>
      <Txt x={2} y={331} s={18} b f={SANS}>C</Txt>
      <Txt x={384} y={333} s={18} b f={SANS}>D</Txt>
      <Txt x={2} y={658} s={18} b f={SANS}>E</Txt>
      <Txt x={403} y={651} s={18} b f={SANS}>F</Txt>
      <Txt x={2} y={966} s={18} b f={SANS}>G</Txt>

      {/* A */}
      <Txt x={111} y={10} s={14.5} a="c">{vennSetNames[0]}</Txt>
      <Txt x={298} y={9} s={14.5} a="c">{vennSetNames[1]}</Txt>
      <Txt x={202} y={299} s={14.5} a="c">{vennSetNames[2]}</Txt>

      {/* B, C, D titles */}
      <Txt x={462} y={15} s={15}>wilcox.tests <i>p</i>=3.7e−13</Txt>
      <Txt x={203} y={331} s={12.5} a="c">GSE12352</Txt>
      <Txt x={33} y={345} s={15}>wilcox.tests <i>p</i>=0.015</Txt>
      <Txt x={417} y={343} s={15}>Kruskal−Wallis test <i>p</i>=4.5e−13</Txt>

      {/* E annotations & legend */}
      <Txt x={238} y={660} s={8} a="r" c="#222">Log−rank P = 0.0284</Txt>
      <Txt x={238} y={671} s={8} a="r" c="#222">HR(High groups)=1.348</Txt>
      <Txt x={238} y={682} s={8} a="r" c="#222">95%CI(1.032, 1.761)</Txt>
      <Txt x={274} y={653} s={8} c="#222">Groups</Txt>
      <Bar x={276} y={666.5} w={11} h={3} c={RED} />
      <Bar x={276} y={679.5} w={11} h={3} c={BLUE} />
      <Txt x={291} y={668} s={7.5} c="#222">groups=High groups</Txt>
      <Txt x={291} y={681} s={7.5} c="#222">groups=Low groups</Txt>
      <Txt x={128} y={870.5} s={8} c="#E5322B">Median time:3.1 and 5.5</Txt>

      {/* F annotations & legend */}
      <Txt x={607} y={652} s={14.5} a="c">ATG5</Txt>
      <Txt x={738} y={672} s={12.5} a="r" f={SANS}>HR = 1.53 (1.11 − 2.11)</Txt>
      <Txt x={738} y={688} s={12.5} a="r" f={SANS}>logrank P = 0.0083</Txt>
      <Txt x={473} y={848} s={12.5} f={SANS}>Expression</Txt>
      <Bar x={477} y={864.4} w={23} h={1.3} c="#000" />
      <Bar x={477} y={877.4} w={23} h={1.3} c="#F2242B" />
      <Txt x={511} y={865} s={12.5} f={SANS}>low</Txt>
      <Txt x={511} y={878} s={12.5} f={SANS}>high</Txt>

      {/* G left table */}
      <Txt x={5} y={993} s={12} b k={K}>Uni_cox</Txt>
      <Txt x={72} y={993} s={12} b k={K}><i>p</i> value</Txt>
      <Txt x={120} y={993} s={12} b k={K}>Hazard Ratio(95% CI)</Txt>
      <Bar x={0} y={1003.3} w={367} h={1.4} c="#444" />
      <Bar x={0} y={1152.2} w={367} h={1.8} c="#111" />
      {coxVars.map((v, i) => (
        <React.Fragment key={'L' + v}>
          <Txt x={5} y={rowL(i)} s={12} k={K} c="#222">{v}</Txt>
          <Txt x={72} y={rowL(i)} s={12} k={K} c="#222">{uniP[i]}</Txt>
          <Txt x={213} y={rowL(i)} s={12} a="r" k={K} c="#222">{`${uniHR[i]}(${uniLo[i]},${uniHi[i]})`}</Txt>
        </React.Fragment>
      ))}
      <Txt x={300} y={1187} s={13} a="c" k={0.82}>Hazard Ratio</Txt>

      {/* G right table */}
      <Txt x={418} y={991} s={12} b k={K}>Mult_cox</Txt>
      <Txt x={483} y={991} s={12} b k={K}><i>p</i> value</Txt>
      <Txt x={534} y={991} s={12} b k={K}>Hazard Ratio(95% CI)</Txt>
      <Bar x={418} y={1002.3} w={365} h={1.4} c="#444" />
      <Bar x={418} y={1150.2} w={365} h={1.8} c="#111" />
      {coxVars.map((v, i) => (
        <React.Fragment key={'R' + v}>
          <Txt x={418} y={rowR(i)} s={12} k={K} c="#222">{v}</Txt>
          <Txt x={486} y={rowR(i)} s={12} k={K} c="#222">{multP[i]}</Txt>
          <Txt x={628} y={rowR(i)} s={12} a="r" k={K} c="#222">{`${multHR[i]}(${multLo[i]},${multHi[i]})`}</Txt>
        </React.Fragment>
      ))}
      <Txt x={713} y={1184} s={13} a="c" k={0.82}>Hazard Ratio</Txt>
    </div>
  );
}
